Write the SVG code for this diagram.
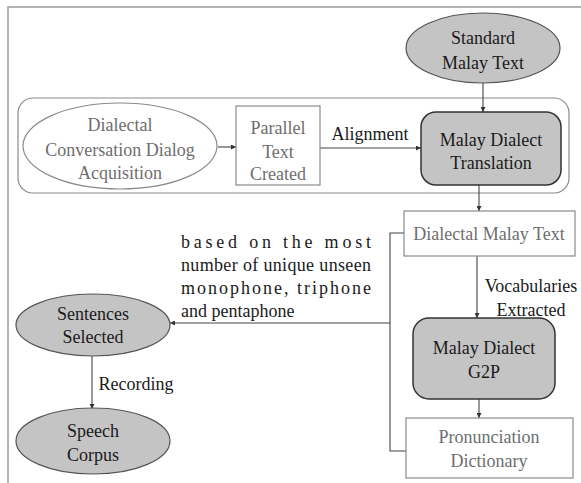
<svg xmlns="http://www.w3.org/2000/svg" width="581" height="483" viewBox="0 0 581 483" font-family="'Liberation Serif', 'Times New Roman', serif">
<defs>
<marker id="ah" viewBox="0 0 6 6" refX="6" refY="3" markerWidth="5" markerHeight="5" orient="auto" markerUnits="userSpaceOnUse">
<path d="M0,0 L6,3 L0,6 z" fill="#333"/>
</marker>
<style>
text{font-size:18px;text-anchor:middle}
.g{fill:#6e6e6e}
.k{fill:#1a1a1a}
.wbox{fill:#fff;stroke:#8a8a8a;stroke-width:1.2}
.gbox{fill:#c4c4c4;stroke:#333;stroke-width:1.5}
.gell{fill:#c4c4c4;stroke:#555;stroke-width:1.2}
.wire{fill:none;stroke:#444;stroke-width:1.1}
</style>
</defs>
<rect width="581" height="483" fill="#fff"/>
<path d="M8,483 V7 H581" fill="none" stroke="#9a9a9a" stroke-width="1.5"/>
<rect id="container" x="18" y="98" width="551" height="95" rx="15" fill="none" stroke="#8a8a8a" stroke-width="1.2"/>

<g id="connectors">
<line class="wire" x1="483" y1="83" x2="483" y2="112" marker-end="url(#ah)"/>
<line class="wire" x1="218" y1="147" x2="236" y2="147" marker-end="url(#ah)"/>
<line class="wire" x1="320" y1="148" x2="421" y2="148" marker-end="url(#ah)"/>
<line class="wire" x1="479" y1="185" x2="479" y2="211" marker-end="url(#ah)"/>
<line class="wire" x1="477" y1="256" x2="477" y2="318" marker-end="url(#ah)"/>
<line class="wire" x1="479" y1="399" x2="479" y2="418" marker-end="url(#ah)"/>
<path class="wire" d="M404,233 H390 V451 H406"/>
<line class="wire" x1="390" y1="323" x2="170" y2="323" marker-end="url(#ah)"/>
<line class="wire" x1="92" y1="356" x2="92" y2="409" marker-end="url(#ah)"/>
<text class="k" x="370" y="140">Alignment</text>
<text class="k" x="531" y="292">Vocabularies</text>
<text class="k" x="531" y="316">Extracted</text>
<text class="k" x="136" y="390">Recording</text>
<text class="k" x="181" y="248" style="text-anchor:start" textLength="190" lengthAdjust="spacing">based on the most</text>
<text class="k" x="181" y="271" style="text-anchor:start" textLength="190" lengthAdjust="spacing">number of unique unseen</text>
<text class="k" x="181" y="294" style="text-anchor:start" textLength="190" lengthAdjust="spacing">monophone, triphone</text>
<text class="k" x="181" y="317" style="text-anchor:start">and pentaphone</text>
</g>

<g id="standard">
<ellipse class="gell" cx="483" cy="48" rx="77" ry="35"/>
<text class="k" x="483" y="44">Standard</text>
<text class="k" x="483" y="69">Malay Text</text>
</g>
<g id="acquisition">
<ellipse cx="120" cy="146" rx="97" ry="43" fill="#fff" stroke="#8a8a8a" stroke-width="1.2"/>
<text class="g" x="120" y="131">Dialectal</text>
<text class="g" x="120" y="156">Conversation Dialog</text>
<text class="g" x="120" y="179">Acquisition</text>
</g>
<g id="parallel">
<rect class="wbox" x="236" y="106" width="84" height="79"/>
<text class="g" x="278" y="134">Parallel</text>
<text class="g" x="278" y="158">Text</text>
<text class="g" x="278" y="180">Created</text>
</g>
<g id="translation">
<rect class="gbox" x="421" y="112" width="140" height="73" rx="15"/>
<text class="k" x="491" y="146">Malay Dialect</text>
<text class="k" x="491" y="169">Translation</text>
</g>
<g id="dialectal-text">
<rect class="wbox" x="404" y="211" width="171" height="45"/>
<text class="g" x="489" y="240">Dialectal Malay Text</text>
</g>
<g id="g2p">
<rect class="gbox" x="413" y="318" width="142" height="81" rx="16"/>
<text class="k" x="484" y="354">Malay Dialect</text>
<text class="k" x="484" y="378">G2P</text>
</g>
<g id="pronunciation">
<rect class="wbox" x="406" y="418" width="167" height="60"/>
<text class="g" x="489" y="443">Pronunciation</text>
<text class="g" x="489" y="467">Dictionary</text>
</g>
<g id="sentences">
<ellipse class="gell" cx="93" cy="325" rx="77" ry="31"/>
<text class="k" x="93" y="320">Sentences</text>
<text class="k" x="93" y="343">Selected</text>
</g>
<g id="corpus">
<ellipse class="gell" cx="93" cy="441" rx="77" ry="33"/>
<text class="k" x="93" y="437">Speech</text>
<text class="k" x="93" y="461">Corpus</text>
</g>
</svg>
